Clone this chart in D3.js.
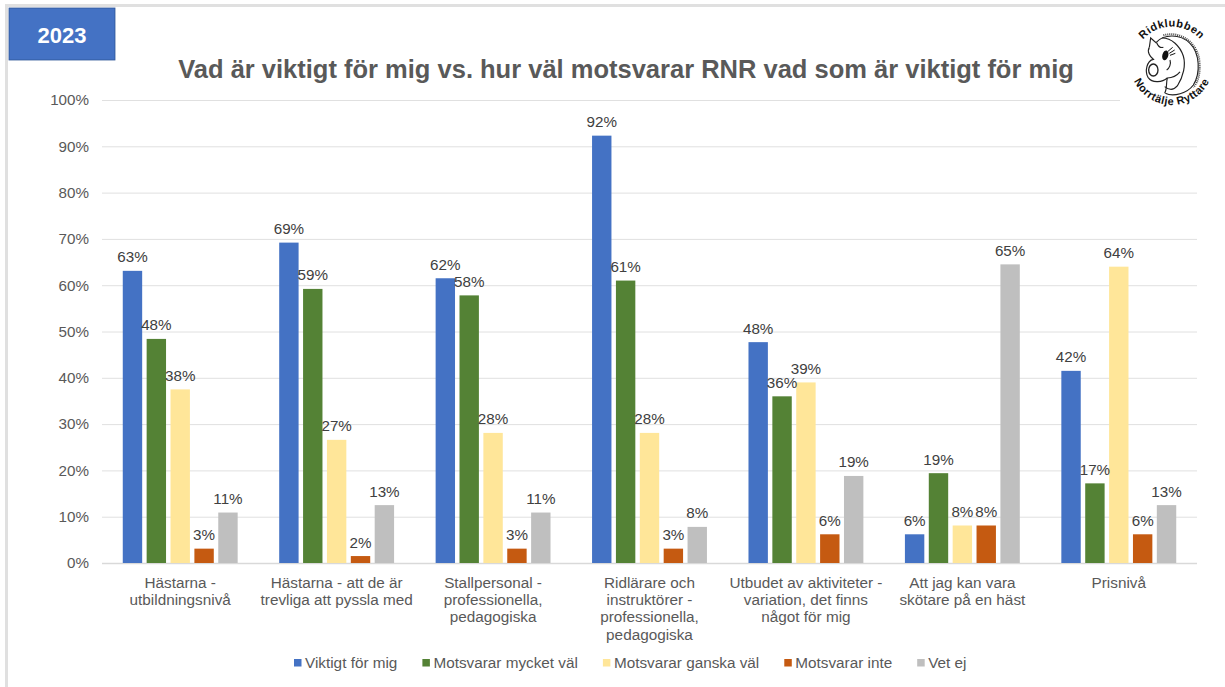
<!DOCTYPE html>
<html>
<head>
<meta charset="utf-8">
<script src="https://cdn.jsdelivr.net/npm/d3@7"></script>
<style>
    html, body { margin: 0; padding: 0; background: #fff; overflow: hidden; }
    text { font-family: "Liberation Sans", Arial, sans-serif; }
</style>
</head>
<body>
<div id="chart-area"></div>
<script>
var width = 1225,
    height = 687;

var categories = [
    ["Hästarna -", "utbildningsnivå"],
    ["Hästarna - att de är", "trevliga att pyssla med"],
    ["Stallpersonal -", "professionella,", "pedagogiska"],
    ["Ridlärare och", "instruktörer -", "professionella,", "pedagogiska"],
    ["Utbudet av aktiviteter -", "variation, det finns", "något för mig"],
    ["Att jag kan vara", "skötare på en häst"],
    ["Prisnivå"]
];

var seriesNames = ["Viktigt för mig", "Motsvarar mycket väl", "Motsvarar ganska väl", "Motsvarar inte", "Vet ej"];
var seriesColors = ["#4472C4", "#548235", "#FFE699", "#C55A11", "#BFBFBF"];

var viktigt = [63.1, 69.2, 61.5, 92.3, 47.7, 6.2, 41.5];
var mycketVal = [48.4, 59.2, 57.8, 61.0, 36.0, 19.4, 17.2];
var ganskaVal = [37.5, 26.6, 28.1, 28.1, 39.0, 8.1, 64.0];
var inte = [3.1, 1.5, 3.1, 3.1, 6.2, 8.1, 6.2];
var vetEj = [10.9, 12.5, 10.9, 7.8, 18.8, 64.5, 12.5];
var seriesValues = [viktigt, mycketVal, ganskaVal, inte, vetEj];

var yTicks = [0, 10, 20, 30, 40, 50, 60, 70, 80, 90, 100];

var margin = { top: 100, right: 28, bottom: 124, left: 102 };

var svg = d3.select("#chart-area").append("svg")
    .attr("width", width)
    .attr("height", height)
    .style("display", "block");

// screenshot frame, top and left only
svg.append("rect").attr("x", 5).attr("y", 4).attr("width", width - 5).attr("height", 3).attr("fill", "#e0e0e0");
svg.append("rect").attr("x", 5).attr("y", 4).attr("width", 3).attr("height", height - 4).attr("fill", "#e0e0e0");

var x = d3.scaleBand()
    .domain(d3.range(categories.length))
    .range([margin.left, width - margin.right]);

var xInner = d3.scaleBand()
    .domain(d3.range(seriesNames.length))
    .range([0, x.bandwidth()])
    .paddingInner(0.1875)
    .paddingOuter(0.87);

var y = d3.scaleLinear()
    .domain([0, 100])
    .range([height - margin.bottom, margin.top]);

// gridlines + y labels
var yAxis = svg.append("g")
    .attr("transform", "translate(" + margin.left + ",0)")
    .call(d3.axisLeft(y)
        .tickValues(yTicks)
        .tickSize(-(width - margin.left - margin.right))
        .tickPadding(13)
        .tickFormat(function(d) { return d + "%"; }));

yAxis.select(".domain").remove();
yAxis.selectAll("line").attr("stroke", function(d) { return d == 0 ? "#d9d9d9" : "#e0e0e0"; })
    .attr("stroke-width", function(d) { return d == 0 ? 1.5 : 1; });
yAxis.selectAll("text")
    .attr("fill", "#595959")
    .style("font-size", "15.2px");

// Draw bars
var groups = svg.selectAll(".cat")
    .data(categories)
    .enter().append("g")
    .attr("class", "cat")
    .attr("transform", function(d, i) { return "translate(" + x(i) + ",0)"; });

groups.each(function(d, c) {
    var g = d3.select(this);
    var rows = seriesValues.map(function(s, k) { return { k: k, v: s[c] }; });

    g.selectAll("rect")
        .data(rows)
        .enter().append("rect")
        .attr("x", function(r) { return xInner(r.k); })
        .attr("y", function(r) { return y(r.v); })
        .attr("width", xInner.bandwidth())
        .attr("height", function(r) { return y(0) - y(r.v); })
        .attr("fill", function(r) { return seriesColors[r.k]; });

    g.selectAll("text.val")
        .data(rows)
        .enter().append("text")
        .attr("class", "val")
        .attr("x", function(r) { return xInner(r.k) + xInner.bandwidth() / 2; })
        .attr("y", function(r) { return y(r.v) - 8.5; })
        .attr("text-anchor", "middle")
        .attr("fill", "#404040")
        .style("font-size", "15.2px")
        .text(function(r) { return Math.round(r.v) + "%"; });

    // category labels
    g.append("text")
        .attr("text-anchor", "middle")
        .attr("fill", "#595959")
        .style("font-size", "15.3px")
        .selectAll("tspan")
        .data(d)
        .enter().append("tspan")
        .attr("x", x.bandwidth() / 2)
        .attr("y", function(line, i) { return 587.5 + i * 17.4; })
        .text(function(line) { return line; });
});

// Title
svg.append("text")
    .attr("x", 626)
    .attr("y", 78)
    .attr("text-anchor", "middle")
    .attr("fill", "#595959")
    .style("font-size", "25.5px")
    .style("font-weight", "bold")
    .text("Vad är viktigt för mig vs. hur väl motsvarar RNR vad som är viktigt för mig");

// Year box
svg.append("rect")
    .attr("x", 9).attr("y", 8).attr("width", 106).attr("height", 52)
    .attr("fill", "#4472C4").attr("stroke", "#2F5597").attr("stroke-width", 0.8);
svg.append("text")
    .attr("x", 62).attr("y", 42.5)
    .attr("text-anchor", "middle")
    .attr("fill", "#fff")
    .style("font-size", "22px")
    .style("font-weight", "bold")
    .text("2023");

// Legend
var legendX = 294;
seriesNames.forEach(function(name, i) {
    svg.append("rect")
        .attr("x", legendX).attr("y", 659).attr("width", 7.5).attr("height", 7.5)
        .attr("fill", seriesColors[i]);
    var t = svg.append("text")
        .attr("x", legendX + 11).attr("y", 668)
        .attr("fill", "#595959")
        .style("font-size", "15.3px")
        .text(name);
    legendX += 11 + t.node().getComputedTextLength() + 25;
});

// Logo, sits on a white patch that cuts the 100% gridline
svg.append("rect")
    .attr("x", 1120).attr("y", 10).attr("width", 105).attr("height", 100)
    .attr("fill", "#fff");

var logo = svg.append("g")
    .attr("transform", "translate(1130,10) scale(0.3333)");

var defs = svg.append("defs");
defs.append("path").attr("id", "logoTop").attr("d", "M 10 165 A 115 115 0 0 1 240 165");
defs.append("path").attr("id", "logoBottom").attr("d", "M 0 160 A 125 125 0 0 0 250 160");

[["#logoTop", "Ridklubben", "33px"], ["#logoBottom", "Norrtälje Ryttare", "33px"]].forEach(function(d) {
    logo.append("text")
        .attr("fill", "#111")
        .style("font-size", d[2])
        .style("font-weight", "bold")
        .style("letter-spacing", "1.5px")
        .append("textPath")
        .attr("href", d[0])
        .attr("startOffset", "50%")
        .attr("text-anchor", "middle")
        .text(d[1]);
});

var horse = [
    "M 58 112 L 62 84 L 78 98 C 100 72 150 70 180 100 C 210 130 212 190 190 225 C 172 250 130 262 106 250",
    "M 58 112 C 50 125 60 140 70 148 C 50 152 44 185 54 202 C 68 222 98 216 112 204 C 126 204 140 198 150 186",
    "M 96 84 C 125 84 150 108 160 138 C 168 165 160 200 142 228 C 130 242 116 240 104 230",
    "M 112 204 C 108 218 112 236 104 250",
    "M 80 98 C 84 108 92 114 100 112",
    "M 120 150 C 124 162 118 175 110 180"
];

logo.selectAll("path.h")
    .data(horse)
    .enter().append("path")
    .attr("class", "h")
    .attr("d", function(d) { return d; })
    .attr("fill", "none")
    .attr("stroke", "#222")
    .attr("stroke-width", 3.5);

logo.append("ellipse").attr("cx", 70).attr("cy", 180).attr("rx", 14).attr("ry", 18)
    .attr("fill", "none").attr("stroke", "#222").attr("stroke-width", 4);
logo.append("ellipse").attr("cx", 106).attr("cy", 136).attr("rx", 9).attr("ry", 15)
    .attr("transform", "rotate(15 106 136)").attr("fill", "#111");
logo.append("path")
    .attr("d", "M 114 124 L 128 112 M 118 130 L 134 120 M 120 136 L 136 130")
    .attr("stroke", "#111").attr("stroke-width", 3);
// jagged mane edge
logo.append("path")
    .attr("d", "M 100 76 C 150 62 200 95 208 150 C 212 190 205 215 190 232")
    .attr("fill", "none").attr("stroke", "#444").attr("stroke-width", 6)
    .attr("stroke-dasharray", "3 3");
</script>
</body>
</html>
